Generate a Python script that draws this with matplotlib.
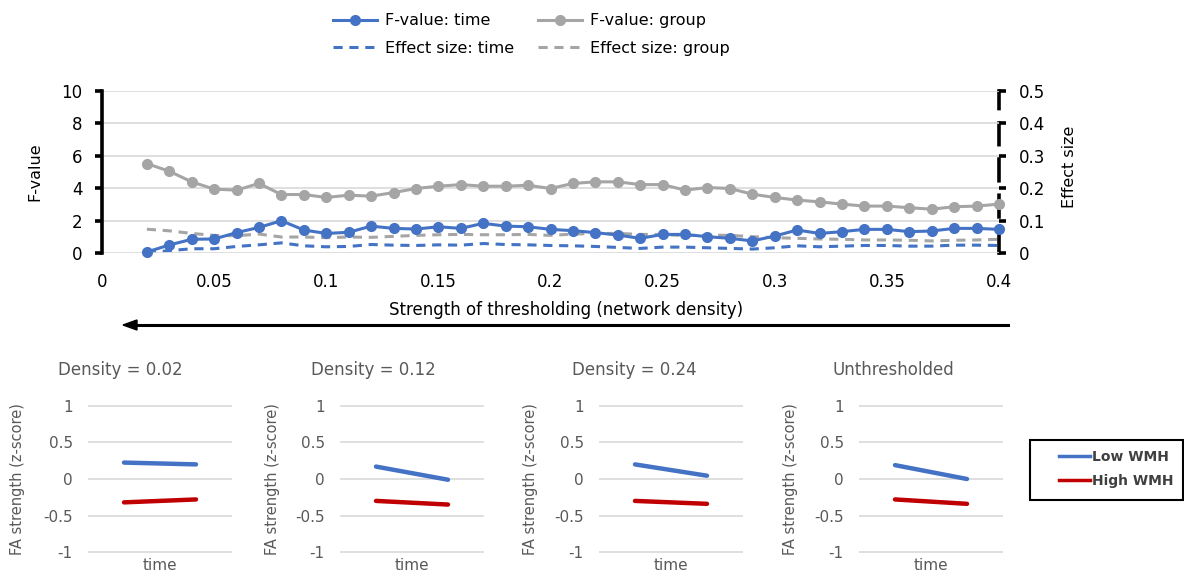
import numpy as np
import matplotlib
matplotlib.use("Agg")
import matplotlib.pyplot as plt
from matplotlib.patches import Rectangle
from matplotlib.ticker import FuncFormatter

plt.rcParams['font.family'] = ['DejaVu Sans']

# top chart: F-values and effect sizes across network density
density = [0.02, 0.03, 0.04, 0.05, 0.06, 0.07, 0.08, 0.09, 0.10, 0.11,
           0.12, 0.13, 0.14, 0.15, 0.16, 0.17, 0.18, 0.19, 0.20, 0.21,
           0.22, 0.23, 0.24, 0.25, 0.26, 0.27, 0.28, 0.29, 0.30, 0.31,
           0.32, 0.33, 0.34, 0.35, 0.36, 0.37, 0.38, 0.39, 0.40]
f_time = [0.08, 0.51, 0.86, 0.88, 1.27, 1.59, 2.00, 1.43, 1.22, 1.29,
          1.67, 1.53, 1.49, 1.63, 1.53, 1.84, 1.67, 1.63, 1.47, 1.39,
          1.27, 1.12, 0.92, 1.16, 1.16, 1.02, 0.92, 0.76, 1.06, 1.43,
          1.22, 1.33, 1.47, 1.47, 1.33, 1.37, 1.53, 1.53, 1.47]
f_group = [5.51, 5.04, 4.39, 3.94, 3.88, 4.29, 3.61, 3.61, 3.43, 3.57,
           3.51, 3.73, 3.98, 4.12, 4.22, 4.12, 4.12, 4.18, 3.98, 4.29,
           4.39, 4.39, 4.22, 4.22, 3.88, 4.04, 3.98, 3.63, 3.43, 3.27,
           3.16, 3.02, 2.90, 2.90, 2.80, 2.71, 2.86, 2.90, 3.02]
es_time = [0.002, 0.008, 0.014, 0.014, 0.021, 0.026, 0.032, 0.023, 0.020, 0.021,
           0.027, 0.025, 0.024, 0.026, 0.025, 0.030, 0.027, 0.026, 0.024, 0.023,
           0.021, 0.018, 0.015, 0.019, 0.019, 0.017, 0.015, 0.013, 0.017, 0.023,
           0.020, 0.022, 0.024, 0.024, 0.022, 0.022, 0.025, 0.025, 0.024]
es_group = [0.074, 0.069, 0.061, 0.055, 0.054, 0.059, 0.050, 0.050, 0.048, 0.050,
            0.049, 0.052, 0.055, 0.057, 0.058, 0.057, 0.057, 0.058, 0.055, 0.059,
            0.061, 0.061, 0.058, 0.058, 0.054, 0.056, 0.055, 0.051, 0.048, 0.046,
            0.044, 0.043, 0.041, 0.041, 0.040, 0.038, 0.040, 0.041, 0.043]

# bottom panels: FA strength at two time points
panel_titles = ['Density = 0.02', 'Density = 0.12', 'Density = 0.24', 'Unthresholded']
low_wmh = [[0.225, 0.20], [0.17, -0.01], [0.20, 0.045], [0.19, 0.0]]
high_wmh = [[-0.32, -0.28], [-0.30, -0.35], [-0.30, -0.34], [-0.28, -0.34]]

BLUE = '#4472C4'
GRAY = '#A5A5A5'
RED = '#C00000'
TXT = '#595959'
W, H = 1184, 579


def fx(px):
    return px / W


def fy(py):
    return 1 - py / H


fig = plt.figure(figsize=(W / 100, H / 100), dpi=100)

# ---- top chart
ax = fig.add_axes([fx(102), fy(253.3), (999 - 102) / W, (253.3 - 90.5) / H])
ax2 = ax.twinx()
ax.set_zorder(ax2.get_zorder() + 1)
ax.patch.set_visible(False)

l1, = ax.plot(density, f_time, color=BLUE, lw=2.2, marker='o', ms=7,
              clip_on=False, label='F-value: time')
l2, = ax.plot(density, f_group, color=GRAY, lw=2.2, marker='o', ms=7,
              clip_on=False, label='F-value: group')
l3, = ax2.plot(density, es_time, color=BLUE, lw=2.2, dashes=(3, 2.2),
               label='Effect size: time')
l4, = ax2.plot(density, es_group, color=GRAY, lw=2.2, dashes=(3, 2.2),
               label='Effect size: group')

ax.set_xlim(0, 0.4)
ax.set_ylim(0, 10)
ax2.set_ylim(0, 0.5)
ax.set_xticks(np.arange(0, 0.41, 0.05))
ax.xaxis.set_major_formatter(FuncFormatter(lambda v, p: f'{v:.2f}'.rstrip('0').rstrip('.')))
ax.set_yticks(range(0, 11, 2))
ax2.set_yticks(np.arange(0, 0.51, 0.1))
ax2.yaxis.set_major_formatter(FuncFormatter(lambda v, p: f'{v:.1f}'.rstrip('0').rstrip('.')))

ax.grid(axis='y', color='#D9D9D9', lw=1.2)
ax.set_axisbelow(True)
for s in ['top', 'right', 'bottom']:
    ax.spines[s].set_visible(False)
for s in ['top', 'left', 'bottom']:
    ax2.spines[s].set_visible(False)
ax.spines['left'].set_linewidth(2.6)
ax.spines['left'].set_color('black')
ax2.spines['right'].set_linewidth(2.6)
ax2.spines['right'].set_linestyle((0, (6, 4)))
ax.tick_params(axis='x', length=0, pad=14, labelsize=12)
ax.tick_params(axis='y', length=5, width=2.6, pad=9, labelsize=12)
ax2.tick_params(axis='y', length=5, width=2.6, pad=9, labelsize=12)
fig.text(fx(35), fy(172), 'F-value', rotation=90, ha='center', va='center', fontsize=11.5)
fig.text(fx(1070), fy(167), 'Effect size', rotation=90, ha='center', va='center', fontsize=11.5)

fig.legend(handles=[l1, l3, l2, l4], ncol=2, frameon=False, fontsize=11.5,
           loc='center', bbox_to_anchor=(fx(531), fy(34.5)),
           handlelength=2.8, handletextpad=0.45, columnspacing=1.5,
           labelspacing=0.8)

fig.text(fx(566), fy(310), 'Strength of thresholding (network density)',
         ha='center', va='center', fontsize=12)
fig.add_artist(plt.Line2D([fx(1008), fx(133)], [fy(325), fy(325)],
                          color='black', lw=2.2, transform=fig.transFigure))
fig.patches.append(plt.Polygon([[fx(123), fy(325)], [fx(137), fy(320)], [fx(137), fy(330)]],
                               closed=True, color='black', transform=fig.transFigure))

# ---- bottom panels
lefts = [88, 340, 599, 859]
label_x = [18, 272, 531, 791]
title_x = [120, 373, 634, 893]
for i in range(4):
    b = fig.add_axes([fx(lefts[i]), fy(554.2), 144 / W, 150.4 / H])
    b.plot([0.5, 1.5], low_wmh[i], color=BLUE, lw=3.2, solid_capstyle='round')
    b.plot([0.5, 1.5], high_wmh[i], color=RED, lw=3.2, solid_capstyle='round')
    b.set_xlim(0, 2)
    b.set_ylim(-1.03, 1.03)
    b.set_yticks([-1, -0.5, 0, 0.5, 1])
    b.set_yticklabels(['-1', '-0.5', '0', '0.5', '1'])
    b.set_xticks([])
    b.grid(axis='y', color='#D9D9D9', lw=1.2)
    b.set_axisbelow(True)
    for s in b.spines.values():
        s.set_visible(False)
    b.tick_params(axis='y', length=0, pad=11, labelsize=11, labelcolor=TXT)
    b.set_xlabel('time', fontsize=11, color=TXT, labelpad=3)
    fig.text(fx(label_x[i]), fy(479), 'FA strength (z-score)', rotation=90,
             ha='center', va='center', fontsize=10.5, color=TXT)
    fig.text(fx(title_x[i]), fy(370), panel_titles[i], ha='center', va='center',
             fontsize=12, color=TXT)

fig.patches.append(Rectangle((fx(1030), fy(500)), 153 / W, 60 / H, fill=False,
                             edgecolor='black', lw=1.5, transform=fig.transFigure))
lo = plt.Line2D([], [], color=BLUE, lw=2.5, label='Low WMH')
hi = plt.Line2D([], [], color=RED, lw=2.5, label='High WMH')
fig.legend(handles=[lo, hi], frameon=False, fontsize=10,
           loc='center left', bbox_to_anchor=(fx(1046), fy(469)), handlelength=2.3,
           handletextpad=0.1, labelspacing=0.75, labelcolor='#404040',
           prop={'weight': 'bold', 'size': 10})

fig.savefig('out.png', dpi=100)
